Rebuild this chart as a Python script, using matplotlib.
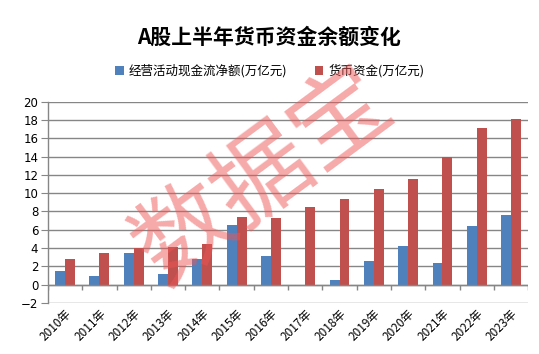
import numpy as np
import matplotlib.pyplot as plt

plt.rcParams['font.family'] = ['Noto Sans CJK SC', 'DejaVu Sans']

years = ['2010年', '2011年', '2012年', '2013年', '2014年', '2015年', '2016年',
         '2017年', '2018年', '2019年', '2020年', '2021年', '2022年', '2023年']
cash_flow = [1.55, 0.9, 3.5, 1.2, 2.85, 6.5, 3.1, -0.15, 0.55, 2.55, 4.2, 2.4, 6.45, 7.65]
cash_funds = [2.85, 3.5, 4.05, 4.15, 4.5, 7.4, 7.3, 8.5, 9.4, 10.4, 11.6, 13.95, 17.1, 18.1]

blue = '#4F81BD'
red = '#C0504D'
grey = '#868686'

fig = plt.figure(figsize=(5.39, 3.54), dpi=100)
ax = fig.add_axes([0.089, 0.144, 0.891, 0.569])

x = np.arange(len(years))
w = 0.29
ax.bar(x - w / 2, cash_flow, w, color=blue, label='经营活动现金流净额(万亿元)', zorder=3)
ax.bar(x + w / 2, cash_funds, w, color=red, label='货币资金(万亿元)', zorder=3)

ax.set_xlim(-0.5, len(years) - 0.5)
ax.set_ylim(-2, 20)
ax.set_yticks(np.arange(-2, 21, 2))
ax.grid(axis='y', color=grey, linewidth=1, zorder=0)
ax.set_axisbelow(True)

for s in ['top', 'right', 'bottom']:
    ax.spines[s].set_visible(False)
ax.spines['left'].set_color(grey)
ax.spines['left'].set_linewidth(1)

# horizontal axis at zero with tick marks between categories
ax.axhline(0, color=grey, linewidth=1, zorder=4)
bounds = np.arange(-0.5, len(years), 1.0)
ax.vlines(bounds, -0.55, 0, color=grey, linewidth=1, zorder=4)

ax.set_xticks(x)
ax.set_xticklabels(years, rotation=45, ha='right', va='top', rotation_mode='anchor', fontsize=8.5)
ax.tick_params(axis='x', length=0, pad=3)
ax.tick_params(axis='y', length=5, color=grey, labelsize=8.5, pad=2)
for t in ax.get_yticklabels():
    t.set_family('DejaVu Sans')

fig.suptitle('A股上半年货币资金余额变化', y=0.925, fontsize=15, fontweight='bold')
fig.legend(loc='center', bbox_to_anchor=(0.5, 0.8), ncol=2, frameon=False,
           fontsize=9, handlelength=0.7, handleheight=0.7, columnspacing=2.2,
           handletextpad=0.4)

# watermark
fig.text(0.49, 0.5, '数据宝', fontsize=70, color='#ee5555', alpha=0.5,
         fontweight='light', rotation=36.5, ha='center', va='center', zorder=10)

fig.savefig('out.png', dpi=100)
